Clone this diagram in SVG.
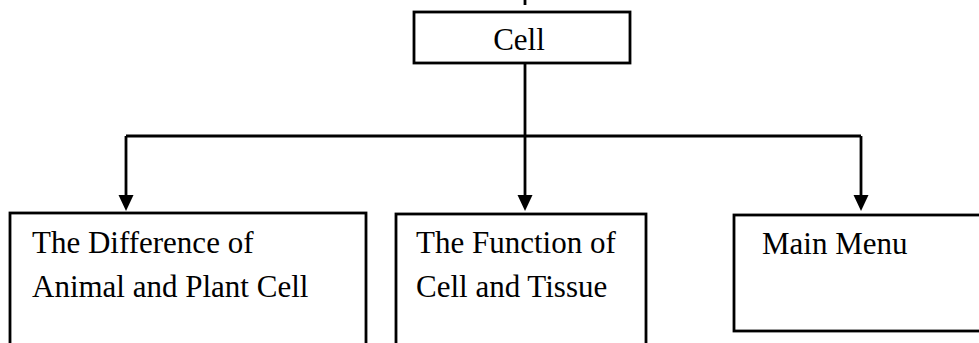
<svg xmlns="http://www.w3.org/2000/svg" width="979" height="343" viewBox="0 0 979 343">
<style>
.box{fill:#fff;stroke:#000;stroke-width:2.8}
.ln{fill:none;stroke:#000;stroke-width:2.8}
.ah{fill:#000}
text{font-family:"Liberation Serif","Times New Roman",serif;font-size:31px;fill:#000}
</style>
<rect width="979" height="343" fill="#fff"/>
<g id="connectors">
<line class="ln" x1="525" y1="0" x2="525" y2="5"/>
<line class="ln" x1="525" y1="63" x2="525" y2="136"/>
<line class="ln" x1="126" y1="136" x2="861" y2="136"/>
<path class="ln" d="M126,136 V196"/>
<path class="ln" d="M525,136 V196"/>
<path class="ln" d="M861,136 V196"/>
<path class="ah" d="M118.5,195 L133.5,195 L126,211 Z"/>
<path class="ah" d="M517.5,195 L532.5,195 L525,211 Z"/>
<path class="ah" d="M853.5,195 L868.5,195 L861,211 Z"/>
</g>
<g id="cell">
<rect class="box" x="414" y="12" width="216" height="51"/>
<text x="519" y="50" text-anchor="middle">Cell</text>
</g>
<g id="difference">
<rect class="box" x="10" y="213" width="356" height="140"/>
<text x="32" y="253">The Difference of</text>
<text x="32" y="297">Animal and Plant Cell</text>
</g>
<g id="function">
<rect class="box" x="396" y="214" width="250" height="140"/>
<text x="416" y="253">The Function of</text>
<text x="416" y="297">Cell and Tissue</text>
</g>
<g id="mainmenu">
<rect class="box" x="734" y="215" width="260" height="116"/>
<text x="762" y="254">Main Menu</text>
</g>
</svg>
